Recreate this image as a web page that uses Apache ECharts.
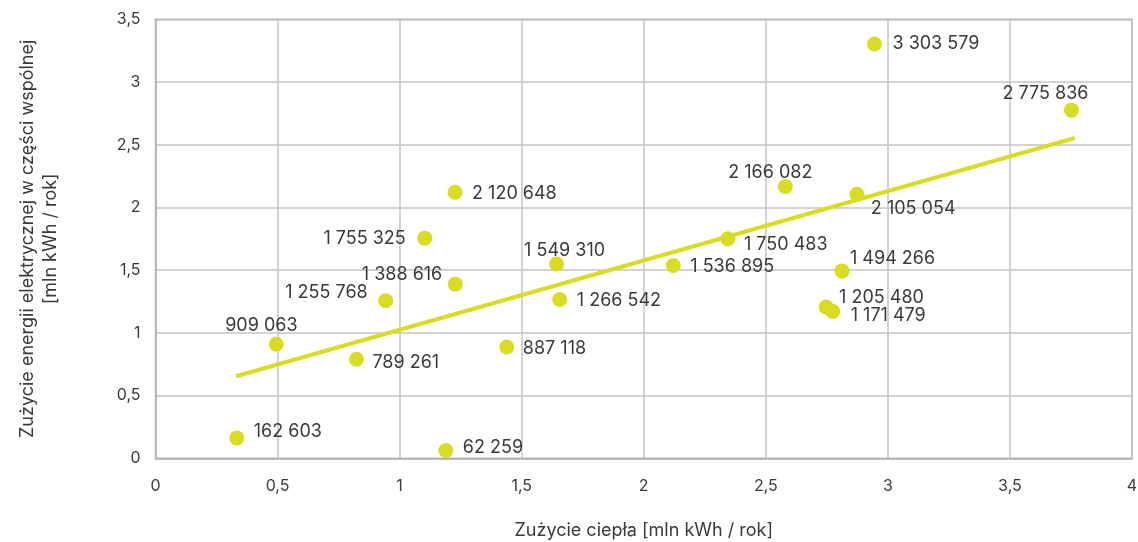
<!DOCTYPE html>
<html>
<head>
<meta charset="utf-8">
<script src="https://cdn.jsdelivr.net/npm/echarts@6/dist/echarts.min.js"></script>
<style>
html,body{margin:0;padding:0;background:#fff;}
#chart{width:1138px;height:542px;}
</style>
</head>
<body>
<div id="chart"></div>
<script>
// Data
const heatX = [0.333, 1.189, 0.495, 0.823, 0.943, 1.103, 1.228, 1.227, 1.439, 1.643, 1.656, 2.121, 2.345, 2.580, 2.873, 2.812, 2.747, 2.774, 2.945, 3.752];
const elecKWh = [162603, 62259, 909063, 789261, 1255768, 1755325, 1388616, 2120648, 887118, 1549310, 1266542, 1536895, 1750483, 2166082, 2105054, 1494266, 1205480, 1171479, 3303579, 2775836];
const trendX = [0.33, 3.766];
const trendY = [0.654, 2.554];
const xTicks = ['0', '0,5', '1', '1,5', '2', '2,5', '3', '3,5', '4'];
const yTicks = ['0', '0,5', '1', '1,5', '2', '2,5', '3', '3,5'];

// Label placement (style): [align, dx, dy] relative to point centre
const labelPlace = [
  ['left', 17, -6], ['left', 17, -3], ['center', -15, -19], ['left', 16, 3],
  ['right', -18, -8], ['right', -19, 0], ['right', -13, -10], ['left', 17, 1],
  ['left', 16, 2], ['center', 8, -13], ['left', 17, 1], ['left', 17, 1],
  ['left', 16, 6], ['center', -15, -14], ['left', 14, 14], ['left', 8, -12],
  ['left', 13, -10], ['left', 18, 4], ['left', 18, 0], ['center', -26, -17]
];

const COLOR = '#d8dd22';
const TEXT = '#3a3a3a';
const FONT = 'Inter';
const fmt = v => String(v).replace(/\B(?=(\d{3})+(?!\d))/g, ' ');

const scatterData = heatX.map((x, i) => ({
  value: [x, elecKWh[i] / 1e6],
  label: {
    show: true,
    position: 'inside',
    align: labelPlace[i][0],
    verticalAlign: 'middle',
    offset: [labelPlace[i][1], labelPlace[i][2]],
    formatter: fmt(elecKWh[i])
  }
}));

const chart = echarts.init(document.getElementById('chart'));
chart.setOption({
  animation: false,
  textStyle: { fontFamily: FONT },
  grid: { left: 155.5, right: 6, top: 19.3, bottom: 83.7, containLabel: false, outerBoundsMode: 'none',
    show: true, borderColor: '#b3b3b3', borderWidth: 1.5 },
  xAxis: {
    type: 'value', min: 0, max: 4, interval: 0.5,
    name: 'Zużycie ciepła [mln kWh / rok]', nameLocation: 'middle', nameGap: 63,
    nameTextStyle: { color: TEXT, fontSize: 18, fontFamily: FONT },
    axisLine: { show: true, lineStyle: { color: '#b3b3b3', width: 1.5 } },
    axisTick: { show: false },
    splitLine: { show: true, lineStyle: { color: '#c4c4c4', width: 1.5 } },
    axisLabel: { color: TEXT, fontSize: 16, margin: 20, fontFamily: FONT,
      formatter: (v) => xTicks[Math.round(v / 0.5)] }
  },
  yAxis: {
    type: 'value', min: 0, max: 3.5, interval: 0.5,
    name: 'Zużycie energii elektrycznej w części wspólnej\n[mln kWh / rok]',
    nameLocation: 'middle', nameGap: 93,
    nameTextStyle: { color: TEXT, fontSize: 18, lineHeight: 23, fontFamily: FONT, align: 'center' },
    axisLine: { show: true, lineStyle: { color: '#b3b3b3', width: 1.5 } },
    axisTick: { show: false },
    splitLine: { show: true, lineStyle: { color: '#c4c4c4', width: 1.5 } },
    axisLabel: { color: TEXT, fontSize: 16, margin: 15, fontFamily: FONT,
      formatter: (v) => yTicks[Math.round(v / 0.5)] }
  },
  series: [
    {
      type: 'line',
      data: trendX.map((x, i) => [x, trendY[i]]),
      showSymbol: false,
      symbol: 'none',
      lineStyle: { color: COLOR, width: 4 },
      z: 2,
      silent: true
    },
    {
      type: 'scatter',
      data: scatterData,
      symbolSize: 15,
      itemStyle: { color: COLOR, opacity: 1 },
      label: { color: TEXT, fontSize: 18, fontFamily: FONT },
      z: 3
    }
  ]
});
</script>
</body>
</html>
